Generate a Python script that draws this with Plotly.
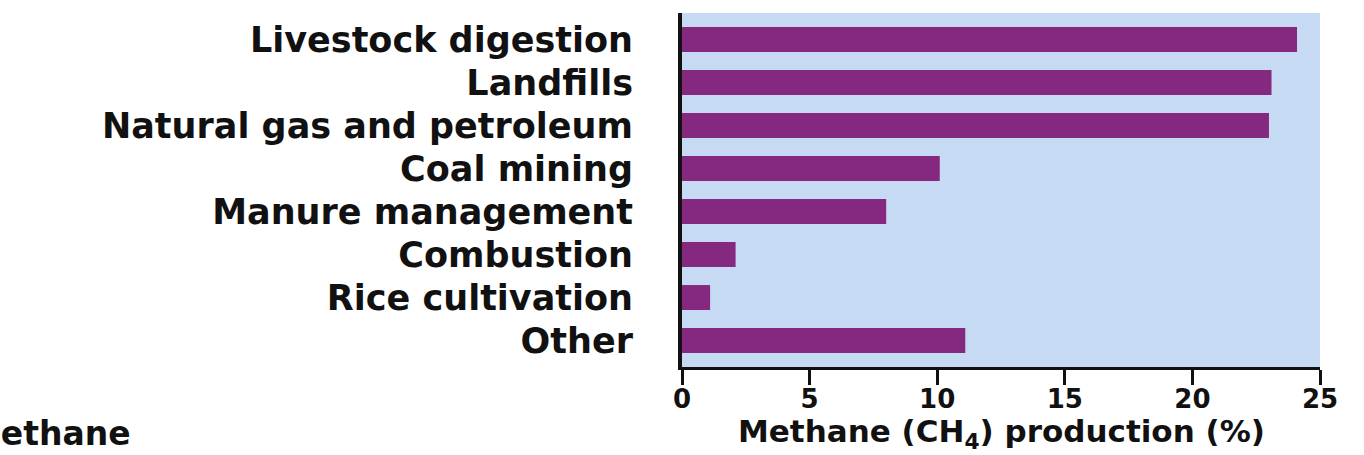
import plotly.graph_objects as go

categories = ["Livestock digestion", "Landfills", "Natural gas and petroleum",
              "Coal mining", "Manure management", "Combustion",
              "Rice cultivation", "Other"]
values = [24.1, 23.1, 23.0, 10.1, 8.0, 2.1, 1.1, 11.1]
x_ticks = [0, 5, 10, 15, 20, 25]

FONT = "DejaVu Sans"

fig = go.Figure(go.Bar(
    y=categories, x=values, orientation="h",
    marker=dict(color="#84297f", line=dict(width=0)),
    width=0.58,
))

W, H = 1364, 455
ml, mr, mt, mb = 682, 44, 13, 88
pw, ph = W - ml - mr, H - mt - mb

fig.update_layout(
    width=W, height=H,
    margin=dict(l=ml, r=mr, t=mt, b=mb, pad=0),
    paper_bgcolor="white",
    plot_bgcolor="#c6daf3",
    showlegend=False,
    font=dict(family=FONT, color="#111111"),
    xaxis=dict(
        range=[0, 25], tickvals=x_ticks,
        showgrid=False, zeroline=False,
        showline=True, linecolor="#111111", linewidth=3,
        ticks="outside", ticklen=15, tickwidth=3, tickcolor="#111111",
        ticklabelstandoff=-8,
        tickfont=dict(family=FONT, size=26, weight="bold", color="#111111"),
    ),
    yaxis=dict(
        categoryorder="array", categoryarray=categories,
        range=[7.616, -0.616],
        showgrid=False, zeroline=False,
        showline=True, linecolor="#111111", linewidth=4,
        ticks="", ticklabelstandoff=38,
        tickfont=dict(family=FONT, size=35, weight="bold", color="#111111"),
    ),
)

# x-axis title
fig.add_annotation(
    text="Methane (CH<sub>4</sub>) production (%)", xref="paper", yref="paper",
    x=(1001 - ml) / pw, y=-(433 - (H - mb)) / ph,
    xanchor="center", yanchor="middle", showarrow=False,
    font=dict(family=FONT, size=31, weight="bold", color="#111111"),
)

# caption at bottom-left, cut off by the left edge as in the reference
fig.add_annotation(
    text="Methane", xref="paper", yref="paper",
    x=(-34 - ml) / pw, y=-(433 - (H - mb)) / ph,
    xanchor="left", yanchor="middle", showarrow=False,
    font=dict(family=FONT, size=33, weight="bold", color="#111111"),
)

fig.write_html("out.html")
